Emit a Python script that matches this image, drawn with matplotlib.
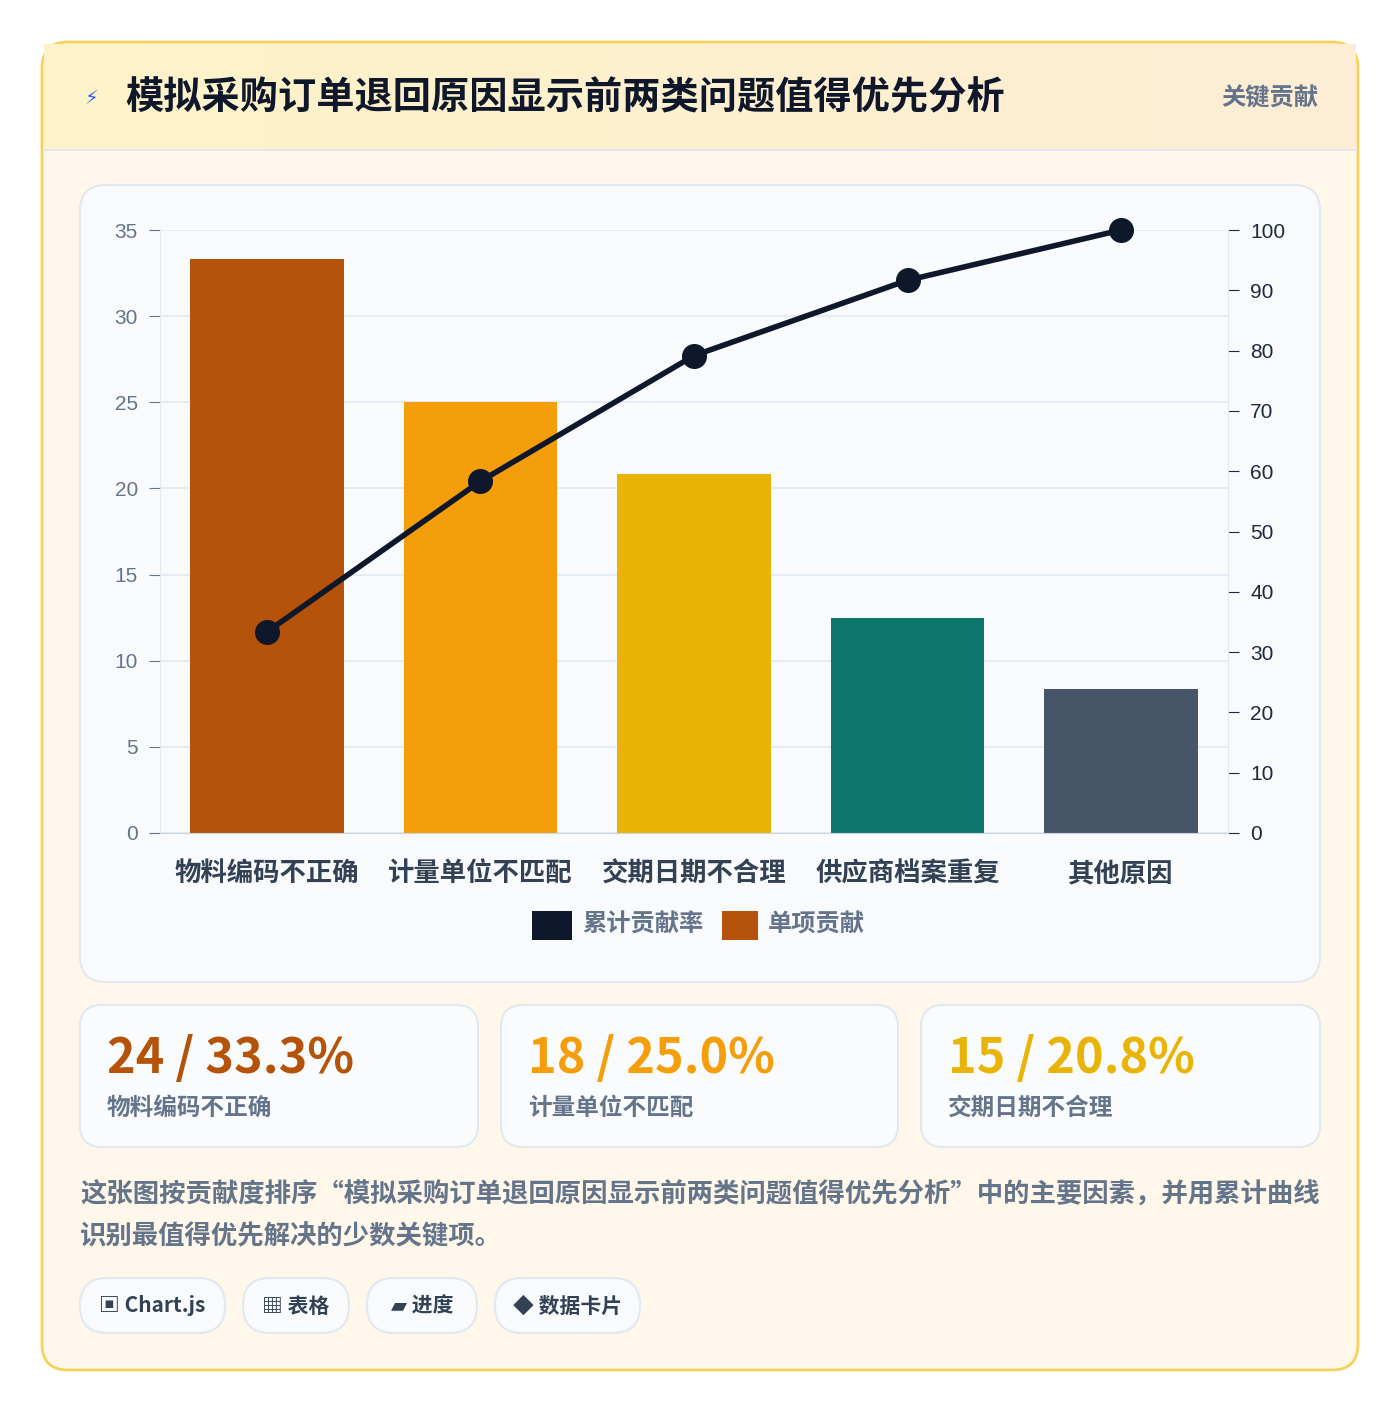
import matplotlib
matplotlib.use("Agg")
import matplotlib.pyplot as plt
import numpy as np
from matplotlib.patches import FancyBboxPatch, Rectangle
from matplotlib.colors import LinearSegmentedColormap

plt.rcParams["font.family"] = ["Noto Sans CJK SC", "DejaVu Sans"]

categories = ["物料编码不正确", "计量单位不匹配", "交期日期不合理", "供应商档案重复", "其他原因"]
counts = [24, 18, 15, 9, 6]
bar_colors = ["#b45309", "#f59e0b", "#eab308", "#0f766e", "#475569"]
left_ticks = [0, 5, 10, 15, 20, 25, 30, 35]
right_ticks = [0, 10, 20, 30, 40, 50, 60, 70, 80, 90, 100]

total = sum(counts)
shares = [c / total * 100 for c in counts]
cumulative = np.cumsum(shares)

W, H = 1400, 1412
fig = plt.figure(figsize=(W / 100, H / 100), dpi=100)
bg = fig.add_axes([0, 0, 1, 1])
bg.set_xlim(0, W)
bg.set_ylim(H, 0)
bg.axis("off")
fig.patch.set_facecolor("white")


def box(x0, y0, x1, y1, fc, ec, r=18, lw=1.5, z=1):
    bg.add_patch(FancyBboxPatch((x0, y0), x1 - x0, y1 - y0,
                                boxstyle=f"round,pad=0,rounding_size={r}",
                                fc=fc, ec=ec, lw=lw, zorder=z))


# outer card
box(42, 42, 1358, 1370, "#fff7ea", "#f5d35a", r=26, lw=2)
# header band gradient
grad = np.linspace(0, 1, 256).reshape(1, -1)
cm = LinearSegmentedColormap.from_list("h", ["#fdf3c8", "#fdedd6"])
bg.imshow(grad, extent=(44, 1356, 150, 44), cmap=cm, aspect="auto", zorder=1)
bg.plot([44, 1356], [150, 150], color="#e2e8f0", lw=1.5, zorder=2)
bg.text(84, 99, "⚡", fontsize=14, color="#2563eb", va="center", zorder=3)
bg.text(125, 98, "模拟采购订单退回原因显示前两类问题值得优先分析", fontsize=27.5,
        fontweight="bold", color="#0f172a", va="center", zorder=3)
bg.text(1318, 98, "关键贡献", fontsize=17.5, fontweight="bold", color="#64748b",
        va="center", ha="right", zorder=3)

# chart panel
box(80, 185, 1320, 982, "#f9fafc", "#e2e8f0", r=26, lw=1.5)

ax = fig.add_axes([160 / W, 1 - 833 / H, (1228 - 160) / W, (833 - 230) / H])
ax.set_facecolor("none")
x = np.arange(len(categories))
ax.bar(x, shares, width=0.72, color=bar_colors, zorder=2)
ax.set_ylim(0, 35)
ax.set_xlim(-0.5, len(categories) - 0.5)
ax.set_yticks(left_ticks)
ax.grid(axis="y", color="#e2e8f0", lw=1.2, zorder=0)
for s in ["top", "right"]:
    ax.spines[s].set_visible(False)
ax.spines["left"].set_color("#e2e8f0")
ax.spines["bottom"].set_color("#cbd5e1")
ax.tick_params(axis="y", colors="#64748b", labelsize=15, length=8, pad=8)
ax.tick_params(axis="x", length=0, pad=20)
for lab in ax.get_yticklabels():
    lab.set_family("Liberation Sans")
ax.set_xticks(x)
ax.set_xticklabels(categories, fontsize=19, fontweight="bold", color="#334155")

ax2 = ax.twinx()
ax2.plot(x, cumulative, color="#0f172a", lw=4, marker="o", markersize=17, zorder=5,
         clip_on=False)
ax2.set_ylim(0, 100)
ax2.set_yticks(right_ticks)
ax2.tick_params(axis="y", colors="#1e293b", labelsize=15, length=8, pad=8)
for lab in ax2.get_yticklabels():
    lab.set_family("Liberation Sans")
for s in ["top", "left", "bottom"]:
    ax2.spines[s].set_visible(False)
ax2.spines["right"].set_color("#e2e8f0")

# legend
bg.add_patch(Rectangle((532, 911), 40, 29, fc="#0f172a", zorder=3))
bg.text(582, 925, "累计贡献率", fontsize=17.5, fontweight="bold", color="#64748b", va="center", zorder=3)
bg.add_patch(Rectangle((722, 911), 36, 29, fc="#b45309", zorder=3))
bg.text(768, 925, "单项贡献", fontsize=17.5, fontweight="bold", color="#64748b", va="center", zorder=3)

# KPI cards
kpi_x = [(80, 478), (501, 898), (921, 1320)]
for (x0, x1), c, s, col, name in zip(kpi_x, counts[:3], shares[:3], bar_colors[:3], categories[:3]):
    box(x0, 1005, x1, 1147, "#fafbfd", "#e2e8f0", r=22, lw=1.5)
    bg.text(x0 + 27, 1058, f"{c} / {s:.1f}%", fontsize=35, fontweight="bold", color=col,
            va="center", zorder=3)
    bg.text(x0 + 27, 1108, name, fontsize=17, fontweight="bold", color="#64748b",
            va="center", zorder=3)

bg.text(80, 1195, "这张图按贡献度排序“模拟采购订单退回原因显示前两类问题值得优先分析”中的主要因素，并用累计曲线",
        fontsize=19, fontweight="bold", color="#64748b", va="center", zorder=3)
bg.text(80, 1237, "识别最值得优先解决的少数关键项。", fontsize=19, fontweight="bold",
        color="#64748b", va="center", zorder=3)

chips = [(80, 225, "▣ Chart.js"), (243, 349, "▦ 表格"), (367, 477, "▰ 进度"), (495, 640, "◆ 数据卡片")]
for x0, x1, t in chips:
    box(x0, 1278, x1, 1333, "#f8fafc", "#e2e8f0", r=27, lw=1.5)
    bg.text((x0 + x1) / 2, 1306, t, fontsize=15, fontweight="bold", color="#334155",
            ha="center", va="center", zorder=3)

fig.savefig("out.png", dpi=100)
